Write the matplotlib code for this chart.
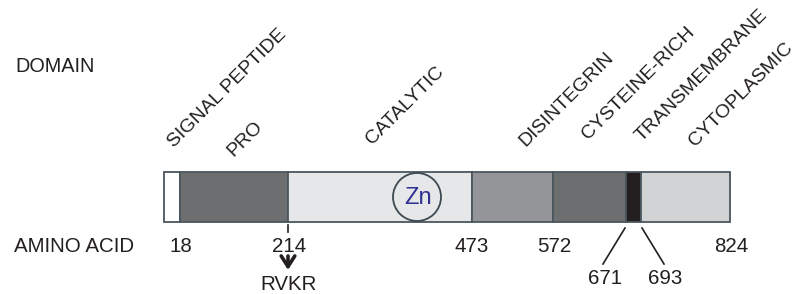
import matplotlib
matplotlib.use("Agg")
import matplotlib.pyplot as plt
from matplotlib.patches import Ellipse

# Domain names and where their rotated labels start (schematic, pixel units)
domains = ["SIGNAL PEPTIDE", "PRO", "CATALYTIC", "DISINTEGRIN",
           "CYSTEINE-RICH", "TRANSMEMBRANE", "CYTOPLASMIC"]
label_x = [174, 233, 372, 525, 588, 642, 695]
label_y = [148, 157, 145, 147, 140, 142, 147]

# Bar segments (schematic, not to scale)
seg_edges = [164, 180, 288, 472, 553, 626, 641, 730]
seg_colors = ["#ffffff", "#6d6e70", "#e6e7e8", "#939598",
              "#6d6e70", "#231f20", "#d1d3d4"]

# Amino acid boundaries written under the bar
aa_labels = ["18", "214", "473", "572", "824"]
aa_x = [181, 289, 472, 554, 731]

# Transmembrane boundaries, pulled apart with leader lines
tm_labels = ["671", "693"]
tm_x = [605, 665]
tm_edge_x = [625, 642]

TXT = "#231f20"
EDGE = "#4b575e"
bar_top, bar_bottom = 172, 222

fig = plt.figure(figsize=(8.02, 2.94), dpi=100)
ax = fig.add_axes([0, 0, 1, 1])
ax.set_xlim(0, 802)
ax.set_ylim(294, 0)
ax.axis("off")

sans = ["Liberation Sans", "DejaVu Sans"]

# row titles
ax.text(15, 67, "DOMAIN", fontsize=14.3, family=sans, color=TXT, va="center", ha="left")
ax.text(14, 246, "AMINO ACID", fontsize=14.8, family=sans, color=TXT, va="center", ha="left")

# rotated domain names
for name, x, y in zip(domains, label_x, label_y):
    ax.text(x, y, name, fontsize=14, family=sans, color=TXT, rotation=45,
            rotation_mode="anchor", ha="left", va="baseline")

# the bar itself
lefts = seg_edges[:-1]
widths = [b - a for a, b in zip(seg_edges[:-1], seg_edges[1:])]
ax.barh((bar_top + bar_bottom) / 2, widths, left=lefts, height=bar_bottom - bar_top,
        color=seg_colors, edgecolor=EDGE, linewidth=1.3, zorder=2)

# zinc binding site
ax.add_patch(Ellipse((417, 197), 48, 48, facecolor="none", edgecolor="#3d4a52",
                     linewidth=1.3, zorder=3))
ax.text(418, 198, "Zn", fontsize=17, family=sans, color="#2e3192",
        ha="center", va="center", zorder=4)

# amino acid numbers
for lab, x in zip(aa_labels, aa_x):
    ax.text(x, 246, lab, fontsize=14.8, family=sans, color=TXT, ha="center", va="center")

# furin site tick + arrow (bold open chevron)
ax.plot([288, 288], [225, 232], color=TXT, lw=1.2)
ax.annotate("", xy=(288, 270), xytext=(288, 256),
            arrowprops=dict(arrowstyle="->,head_length=0.55,head_width=0.35",
                            color=TXT, lw=2.6, mutation_scale=14,
                            shrinkA=0, shrinkB=0))
ax.text(289, 284, "RVKR", fontsize=14.8, family=sans, color=TXT, ha="center", va="center")

# transmembrane leader lines
for lab, x, ex in zip(tm_labels, tm_x, tm_edge_x):
    ax.plot([ex, x - 2 if x < ex else x - 1], [228, 264], color=TXT, lw=1.2)
    ax.text(x, 278, lab, fontsize=14.8, family=sans, color=TXT, ha="center", va="center")

fig.savefig("out.png", dpi=100)
